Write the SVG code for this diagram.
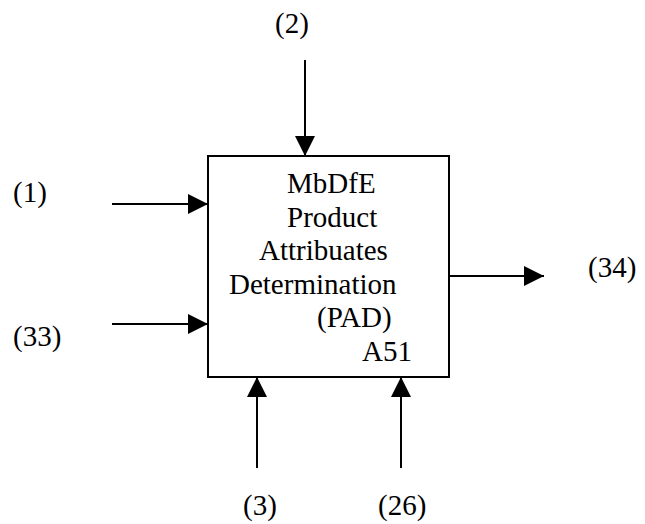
<svg xmlns="http://www.w3.org/2000/svg" width="645" height="524" viewBox="0 0 645 524">
<style>
text{font-family:"Liberation Serif","Times New Roman",serif;font-size:29px;fill:#000}
.ln{stroke:#000;stroke-width:2;fill:none}
</style>
<defs>
<marker id="ah" markerUnits="userSpaceOnUse" markerWidth="20" markerHeight="20" refX="20" refY="10" orient="auto">
<path d="M0,0 L20,10 L0,20 Z" fill="#000"/>
</marker>
</defs>
<rect width="645" height="524" fill="#fff"/>
<g id="connectors">
<line class="ln" x1="112" y1="204" x2="208" y2="204" marker-end="url(#ah)"/>
<line class="ln" x1="112" y1="324" x2="208" y2="324" marker-end="url(#ah)"/>
<line class="ln" x1="305" y1="60" x2="305" y2="156" marker-end="url(#ah)"/>
<line class="ln" x1="257" y1="468" x2="257" y2="377" marker-end="url(#ah)"/>
<line class="ln" x1="401" y1="468" x2="401" y2="377" marker-end="url(#ah)"/>
<line class="ln" x1="449" y1="276" x2="544" y2="276" marker-end="url(#ah)"/>
</g>
<g id="A51">
<rect x="208" y="156" width="241" height="221" fill="#fff" stroke="#000" stroke-width="2"/>
<text x="287" y="193">MbDfE</text>
<text x="287" y="227">Product</text>
<text x="259" y="260">Attribuates</text>
<text x="229" y="294">Determination</text>
<text x="317" y="327">(PAD)</text>
<text x="362" y="361">A51</text>
</g>
<g id="labels">
<text x="13" y="202">(1)</text>
<text x="13" y="346">(33)</text>
<text x="275" y="33">(2)</text>
<text x="588" y="277">(34)</text>
<text x="243" y="515">(3)</text>
<text x="378" y="515">(26)</text>
</g>
</svg>
